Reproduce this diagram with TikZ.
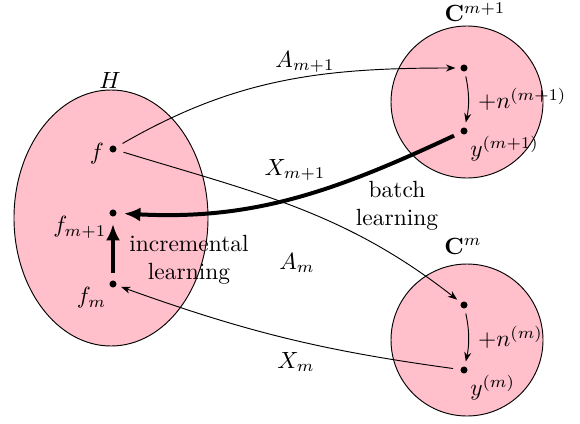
\documentclass[tikz,border=0pt]{standalone}
\usepackage{amsmath}
\usepackage{amssymb}
\usepackage{tikz}
\usetikzlibrary{arrows.meta}
\definecolor{setpink}{HTML}{FFC0CB}

\begin{document}
\begin{tikzpicture}[
    dot/.style={circle, fill, inner sep=0pt, minimum size=3pt},
    map/.style={-{Stealth[length=4pt, width=3pt]}, thin, shorten <=3pt, shorten >=2pt},
    learn/.style={-{Latex[length=7pt, width=6pt]}, line width=1.7pt, shorten <=3pt, shorten >=3pt}
]
    \useasboundingbox (0, 0) rectangle (8.7, 6.345);

    % Hypothesis set (ellipse)
    \draw[fill=setpink] (1.665, 3.075) ellipse (1.455 and 1.92);
    \node at (1.65, 5.145) {$H$};

    % Data sets (circles)
    \draw[fill=setpink] (7.005, 4.815) circle (1.14);
    \node at (7.125, 6.165) {$\mathbf{C}^{m+1}$};
    \draw[fill=setpink] (7.005, 1.245) circle (1.14);
    \node at (6.945, 2.655) {$\mathbf{C}^{m}$};

    % Points in H
    \node[dot, label={[inner sep=2pt, yshift=-2pt]left:$f$}] (f) at (1.695, 4.11) {};
    \node[dot, label={[inner sep=1pt]190:$f_{m+1}$}] (fnext) at (1.695, 3.15) {};
    \node[dot, label={[inner sep=1pt]188:$f_{m}$}] (fm) at (1.695, 2.085) {};

    % Points in the data sets
    \node[dot] (a1) at (6.96, 5.325) {};
    \node[dot, label={[inner sep=1pt]-30:$y^{(m+1)}$}] (y1) at (6.96, 4.38) {};
    \node[dot] (a0) at (6.96, 1.77) {};
    \node[dot, label={[inner sep=1pt]-30:$y^{(m)}$}] (y0) at (6.96, 0.795) {};

    % Noise
    \draw[map, shorten <=2pt] (a1) to[bend left=12] node[right, inner sep=4pt] {$+n^{(m+1)}$} (y1);
    \draw[map, shorten <=2pt] (a0) to[bend left=12] node[right, inner sep=4pt] {$+n^{(m)}$} (y0);

    % Maps between H and the data sets
    \draw[map] (f) to[out=30, in=180] (a1);
    \draw[map] (f) to[out=-17, in=142] (a0);
    \draw[map] (y0) to[bend left=6] (fm);
    \node at (4.575, 5.415) {$A_{m+1}$};
    \node at (4.425, 3.795) {$X_{m+1}$};
    \node at (4.455, 2.4) {$A_{m}$};
    \node at (4.44, 0.915) {$X_{m}$};

    % Learning steps
    \draw[learn] (y1) to[out=205, in=-3] (fnext);
    \draw[learn] (fm) -- (fnext);
    \node[align=center] at (5.955, 3.255) {batch\\learning};
    \node[align=center] at (2.835, 2.445) {incremental\\learning};
\end{tikzpicture}
\end{document}
